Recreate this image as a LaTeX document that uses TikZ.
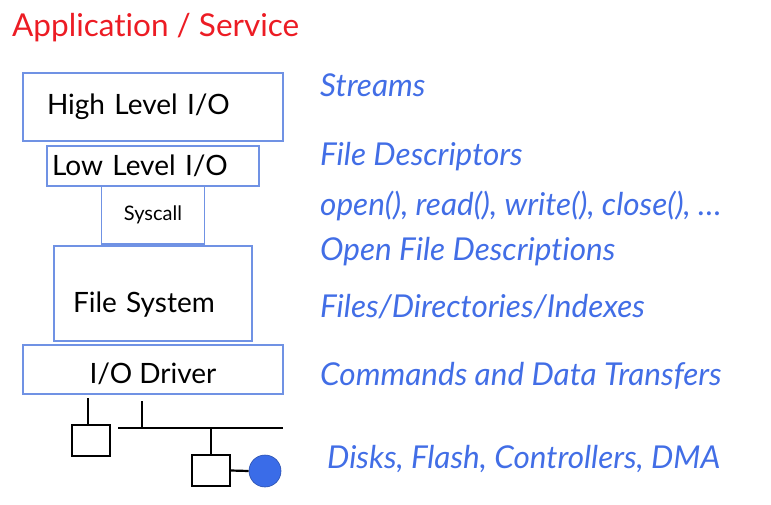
\documentclass[tikz,border=0pt]{standalone}
\usepackage{fontspec}
\setmainfont[Ligatures=NoCommon]{Lato}
\usetikzlibrary{positioning}
\definecolor{titlered}{RGB}{236,28,36}
\definecolor{noteblue}{RGB}{66,110,230}
\definecolor{edgeblue}{RGB}{112,146,228}
\definecolor{dotblue}{RGB}{58,108,232}

\begin{document}
\begin{tikzpicture}
  [x=1pt,y=-1pt,
   layer/.style={rectangle,draw=edgeblue,line width=1.3pt,inner ysep=0pt,outer sep=0pt,
     font=\fontsize{28}{30}\selectfont},
   note/.style={anchor=base west,inner sep=0pt,text=noteblue,
     font=\fontsize{31.5}{33}\selectfont\itshape},
   device/.style={rectangle,draw=black,line width=1.3pt,fill=white,
     minimum width=38pt,minimum height=31pt,inner sep=0pt},
   bus/.style={line width=2.8pt},
   link/.style={line width=2.2pt}]
  \useasboundingbox (0,0) rectangle (771,505);
  \node (title) [anchor=base west,inner sep=0pt,text=titlered,
    font=\fontsize{31.5}{33}\selectfont] at (12,37) {Application / Service};

  \node (hlio) [layer,minimum height=68pt,inner xsep=24pt,text width=212pt,align=left] at (153,107) {High Level I/O};
  \node (llio) [layer,below=5pt of hlio,minimum height=40pt,inner xsep=5pt,text width=202pt,align=left] {Low Level I/O};
  \node (sysc) [layer,below=0pt of llio,minimum width=103pt,minimum height=58pt,
    font=\fontsize{20}{22}\selectfont] {Syscall};
  \node (fsys) [layer,below=2pt of sysc,minimum height=95pt,inner xsep=19pt,text width=160pt,align=left,
    text height=37pt,text depth=0pt] {File System};
  \node (iodrv) [layer,below=4pt of fsys,minimum width=260pt,minimum height=49pt,
    text height=27pt,text depth=0pt] {I/O Driver};

  \node (disk1) [device] at (91,440.5) {};
  \node (disk2) [device] at (211,470.5) {};
  \node (dot) [circle,fill=dotblue,draw=dotblue!75!black,line width=0.6pt,minimum size=32pt,inner sep=0pt] at (265,471) {};
  \coordinate (tap1) at (88,398);
  \coordinate (tap2) at (142,401);
  \coordinate (busL) at (118,428);
  \coordinate (busR) at (283,428);
  \draw[bus] (tap1) -- (tap1 |- disk1.north);
  \draw[bus] (busL) -- (busR);
  \draw[bus] (tap2) -- (tap2 |- busL);
  \draw[bus] (disk2.north) -- (disk2.north |- busL);
  \draw[link] (disk2.east) -- (dot.west);

  \node (nstream) [note] at (320,97) {Streams};
  \node (nfd) [note] at (320,166) {File Descriptors};
  \node (ncall) [note] at (320,215) {open(), read(), write(), close(), \dots};
  \node (nofd) [note] at (320,260) {Open File Descriptions};
  \node (nfiles) [note] at (320,317) {Files/Directories/Indexes};
  \node (ncmd) [note] at (320,385) {Commands and Data Transfers};
  \node (ndisk) [note] at (327,468) {Disks, Flash, Controllers, DMA};
\end{tikzpicture}
\end{document}
